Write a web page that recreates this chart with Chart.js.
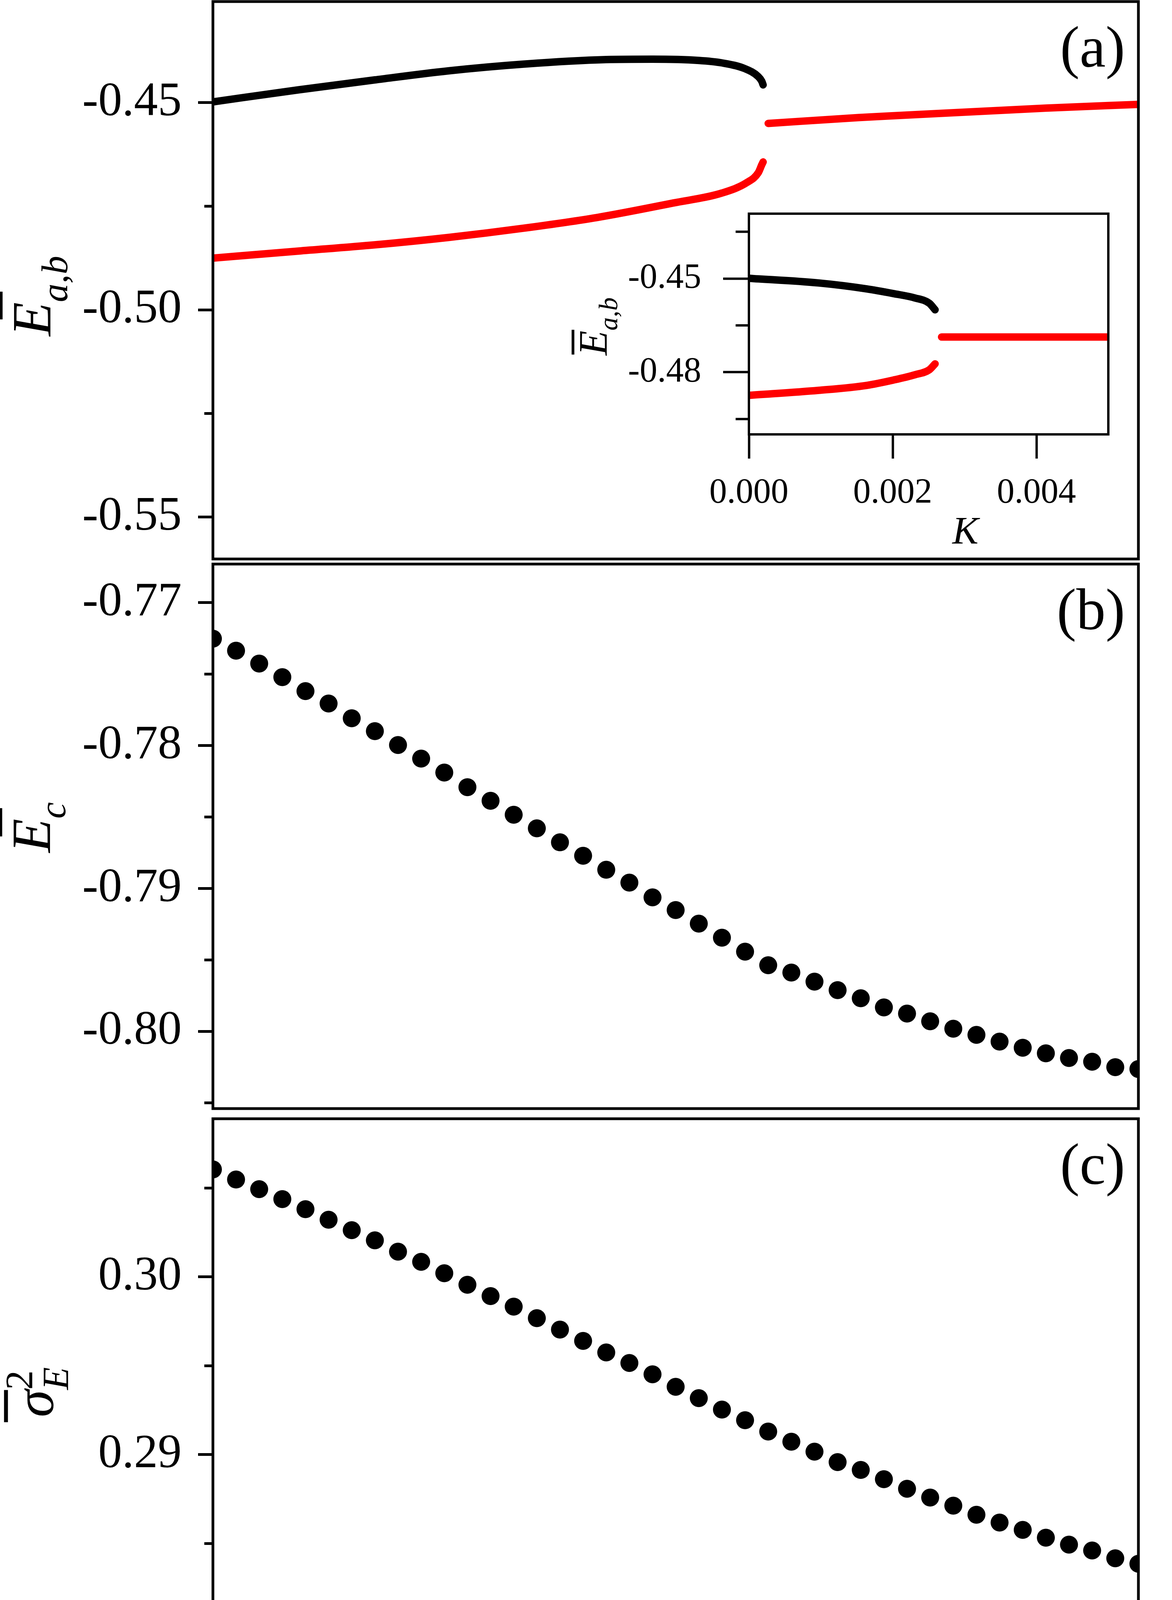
<!DOCTYPE html>
<html>
<head>
<meta charset="utf-8">
<script src="https://cdn.jsdelivr.net/npm/chart.js@4.4.1/dist/chart.umd.min.js"></script>
<style>
  html, body { margin: 0; padding: 0; background: #fff; }
  body { width: 3000px; height: 4654px; position: relative; overflow: hidden; }
  canvas { position: absolute; }
</style>
</head>
<body>
<canvas id="panelA" width="3000" height="1441" style="left:0;top:0;width:3000px;height:1441px"></canvas>
<canvas id="inset" width="1480" height="920" style="left:1400px;top:500px;width:1480px;height:920px"></canvas>
<canvas id="panelB" width="3000" height="1440" style="left:0;top:1421px;width:3000px;height:1440px"></canvas>
<canvas id="panelC" width="3000" height="1813" style="left:0;top:2841px;width:3000px;height:1813px"></canvas>
<script>
// ---- panel (a): the two branches and the single branch after the merge
const blackK = [0, 0.0037, 0.0070, 0.0102, 0.0134, 0.0170, 0.0190, 0.0210, 0.0220, 0.0230, 0.02357, 0.02372, 0.02378]
const blackE = [-0.4498, -0.4469, -0.4445, -0.4423, -0.4407, -0.4396, -0.4395, -0.4398, -0.4404, -0.4418, -0.4437, -0.4448, -0.4457]
const redLowK = [0, 0.0037, 0.0070, 0.0102, 0.0134, 0.0166, 0.0199, 0.0220, 0.0231, 0.02357, 0.02372, 0.02378]
const redLowE = [-0.4875, -0.4858, -0.4843, -0.4825, -0.4803, -0.4777, -0.4742, -0.4718, -0.4692, -0.4669, -0.4650, -0.4643]
const redHighK = [0.0240, 0.0279, 0.0296, 0.0360, 0.0400]
const redHighE = [-0.4550, -0.4536, -0.4531, -0.4513, -0.4504]

// ---- inset of panel (a)
const insetBlackK = [0, 0.00097, 0.00164, 0.00201, 0.00231, 0.00251, 0.00259]
const insetBlackE = [-0.4499, -0.4514, -0.4533, -0.4548, -0.4562, -0.4579, -0.4600]
const insetRedLowK = [0, 0.00097, 0.00164, 0.00201, 0.00231, 0.00251, 0.00259]
const insetRedLowE = [-0.4874, -0.4858, -0.4842, -0.4825, -0.4808, -0.4792, -0.4773]
const insetRedHighK = [0.00268, 0.0050]
const insetRedHighE = [-0.4687, -0.4687]

// ---- panels (b) and (c): one dot per K step
const kDots = [0, 0.001, 0.002, 0.003, 0.004, 0.005, 0.006, 0.007, 0.008, 0.009,
    0.010, 0.011, 0.012, 0.013, 0.014, 0.015, 0.016, 0.017, 0.018, 0.019,
    0.020, 0.021, 0.022, 0.023, 0.024, 0.025, 0.026, 0.027, 0.028, 0.029,
    0.030, 0.031, 0.032, 0.033, 0.034, 0.035, 0.036, 0.037, 0.038, 0.039, 0.040]
const ecValues = [-0.77252, -0.77336, -0.77426, -0.77521, -0.77619, -0.77706, -0.77809, -0.77899, -0.77996, -0.78091,
    -0.78189, -0.78291, -0.78386, -0.78484, -0.78579, -0.78677, -0.78771, -0.78869, -0.78959, -0.79062,
    -0.79151, -0.79246, -0.79344, -0.79442, -0.79537, -0.79588, -0.79652, -0.79711, -0.79768, -0.79832,
    -0.79875, -0.79929, -0.79981, -0.80024, -0.80071, -0.80114, -0.80153, -0.80186, -0.80212, -0.80250, -0.80263]
const sigmaValues = [0.30605, 0.30548, 0.30494, 0.30438, 0.30381, 0.30322, 0.30263, 0.30206, 0.30142, 0.30085,
    0.30021, 0.29956, 0.29892, 0.29833, 0.29768, 0.29704, 0.29640, 0.29575, 0.29516, 0.29452,
    0.29382, 0.29318, 0.29254, 0.29194, 0.29130, 0.29073, 0.29017, 0.28958, 0.28914, 0.28862,
    0.28808, 0.28759, 0.28713, 0.28662, 0.28618, 0.28577, 0.28533, 0.28494, 0.28461, 0.28417, 0.28386]

// ---- ticks
const kTicks = [0, 0.01, 0.02, 0.03, 0.04]
const kLabels = ['0.00', '0.01', '0.02', '0.03', '0.04']
const kMinor = [0.005, 0.015, 0.025, 0.035]
const yTicksA = [-0.55, -0.50, -0.45]
const yLabelsA = ['-0.55', '-0.50', '-0.45']
const yMinorA = [-0.525, -0.475]
const yTicksB = [-0.80, -0.79, -0.78, -0.77]
const yLabelsB = ['-0.80', '-0.79', '-0.78', '-0.77']
const yMinorB = [-0.805, -0.795, -0.785, -0.775]
const yTicksC = [0.28, 0.29, 0.30]
const yLabelsC = ['0.28', '0.29', '0.30']
const yMinorC = [0.285, 0.295, 0.305]
const insetKTicks = [0, 0.002, 0.004]
const insetKLabels = ['0.000', '0.002', '0.004']
const insetYTicks = [-0.48, -0.45]
const insetYLabels = ['-0.48', '-0.45']
const insetYMinor = [-0.495, -0.465, -0.435]

const FONT = 'Liberation Serif'
const RED = '#ff0000'
Chart.defaults.font.family = FONT
Chart.defaults.color = '#000'

const pairs = (xs, ys) => xs.map((x, i) => ({x, y: ys[i]}))

// rotated y title with overbar, subscript and superscript
function drawAxisTitle(ctx, area, t) {
    ctx.save()
    ctx.translate(t.x, (area.top + area.bottom) / 2 + t.dy)
    ctx.rotate(-Math.PI / 2)
    ctx.textBaseline = 'alphabetic'
    ctx.textAlign = 'left'
    ctx.font = `italic ${t.size}px ${FONT}`
    const baseW = ctx.measureText(t.base).width
    let subW = 0, supW = 0
    if (t.sub) { ctx.font = `italic ${t.subSize}px ${FONT}`; subW = ctx.measureText(t.sub).width }
    if (t.sup) { ctx.font = `${t.supSize}px ${FONT}`; supW = ctx.measureText(t.sup).width }
    const x0 = -(baseW + Math.max(subW, supW)) / 2
    ctx.font = `italic ${t.size}px ${FONT}`
    ctx.fillText(t.base, x0, 0)
    if (t.sub) { ctx.font = `italic ${t.subSize}px ${FONT}`; ctx.fillText(t.sub, x0 + baseW, t.subShift) }
    if (t.sup) { ctx.font = `${t.supSize}px ${FONT}`; ctx.fillText(t.sup, x0 + baseW, -t.supShift) }
    ctx.fillRect(x0 + t.bar[0] * t.size, -t.barY * t.size - t.barW / 2, (t.bar[1] - t.bar[0]) * t.size, t.barW)
    ctx.restore()
}

// frame, minor ticks, panel letter and titles
function decor(spec) {
    return {
        id: 'decor',
        afterDraw(chart) {
            const {ctx, chartArea: a, scales} = chart
            ctx.save()
            ctx.strokeStyle = '#000'
            ctx.fillStyle = '#000'
            ctx.lineWidth = spec.tickWidth
            ctx.beginPath()
            for (const v of spec.minorY || []) {
                const y = scales.y.getPixelForValue(v)
                ctx.moveTo(a.left - spec.minorLen, y)
                ctx.lineTo(a.left, y)
            }
            for (const v of spec.minorX || []) {
                const x = scales.x.getPixelForValue(v)
                ctx.moveTo(x, a.bottom)
                ctx.lineTo(x, a.bottom + spec.minorLen)
            }
            ctx.stroke()
            ctx.lineWidth = spec.frameWidth
            ctx.strokeRect(a.left, a.top, a.right - a.left, a.bottom - a.top)
            if (spec.letter) {
                ctx.font = `150px ${FONT}`
                ctx.textAlign = 'right'
                ctx.textBaseline = 'alphabetic'
                ctx.fillText(spec.letter, a.right - 34, a.top + 167)
            }
            if (spec.kTitle) {
                ctx.font = `italic ${spec.kTitle.size}px ${FONT}`
                ctx.textAlign = 'center'
                ctx.textBaseline = 'alphabetic'
                ctx.fillText('K', a.left + spec.kTitle.dx, a.bottom + spec.kTitle.dy)
            }
            if (spec.title) drawAxisTitle(ctx, a, spec.title)
            ctx.restore()
        }
    }
}

function yAxis(min, max, ticks, labels, o) {
    return {
        type: 'linear', position: 'left', min, max,
        afterBuildTicks: s => { s.ticks = ticks.map(value => ({value})) },
        afterFit: s => { s.width = o.width; s.paddingTop = 0; s.paddingBottom = 0 },
        border: {display: false},
        grid: {drawOnChartArea: false, tickLength: o.tickLength, tickWidth: o.tickWidth, tickColor: '#000'},
        ticks: {font: {size: o.size}, padding: o.padding, color: '#000', callback: (v, i) => labels[i]}
    }
}

function xAxis(min, max, ticks, labels, o) {
    if (!o) return {type: 'linear', min, max, display: false}
    return {
        type: 'linear', position: 'bottom', min, max,
        afterBuildTicks: s => { s.ticks = ticks.map(value => ({value})) },
        afterFit: s => { s.height = o.height; s.paddingLeft = 0; s.paddingRight = 0 },
        border: {display: false},
        grid: {drawOnChartArea: false, tickLength: o.tickLength, tickWidth: o.tickWidth, tickColor: '#000'},
        ticks: {font: {size: o.size}, padding: o.padding, maxRotation: 0, autoSkip: false, color: '#000', callback: (v, i) => labels[i]},
        title: o.title || {display: false}
    }
}

const baseOptions = {
    responsive: false,
    devicePixelRatio: 1,
    animation: false,
    events: [],
    plugins: {legend: {display: false}, tooltip: {enabled: false}}
}

function curve(data, color, width) {
    return {
        data, borderColor: color, backgroundColor: color, borderWidth: width,
        pointRadius: 0, cubicInterpolationMode: 'monotone',
        borderCapStyle: 'round', borderJoinStyle: 'round', clip: 0
    }
}

function dots(data) {
    return {data, pointRadius: 23, pointBackgroundColor: '#000', pointBorderWidth: 0, showLine: false, clip: 0}
}

const mainY = {width: 545, tickLength: 38, tickWidth: 7, size: 122, padding: 42}

// panel (a)
new Chart(document.getElementById('panelA').getContext('2d'), {
    type: 'line',
    data: {datasets: [
        curve(pairs(blackK, blackE), '#000', 19),
        curve(pairs(redLowK, redLowE), RED, 19),
        curve(pairs(redHighK, redHighE), RED, 19)
    ]},
    options: {
        ...baseOptions,
        layout: {padding: {left: 0, top: 4, right: 86, bottom: 10}},
        scales: {
            x: xAxis(0, 0.04),
            y: yAxis(-0.5601, -0.4256, yTicksA, yLabelsA, mainY)
        }
    },
    plugins: [decor({
        tickWidth: 7, minorLen: 22, frameWidth: 7, minorY: yMinorA, letter: '(a)',
        title: {x: 129, dy: 40, base: 'E', size: 142, sub: 'a,b', subSize: 95, subShift: 43,
            bar: [0.30, 0.80], barY: 0.89, barW: 8}
    })]
})

// inset
new Chart(document.getElementById('inset').getContext('2d'), {
    type: 'line',
    data: {datasets: [
        curve(pairs(insetBlackK, insetBlackE), '#000', 19),
        curve(pairs(insetRedLowK, insetRedLowE), RED, 19),
        curve(pairs(insetRedHighK, insetRedHighE), RED, 19)
    ]},
    options: {
        ...baseOptions,
        layout: {padding: {left: 0, top: 47, right: 43, bottom: 0}},
        scales: {
            x: xAxis(0, 0.005, insetKTicks, insetKLabels, {height: 308, tickLength: 62, tickWidth: 6, size: 90, padding: 35}),
            y: yAxis(-0.4999, -0.4292, insetYTicks, insetYLabels, {width: 517, tickLength: 66, tickWidth: 6, size: 90, padding: 56})
        }
    },
    plugins: [decor({
        tickWidth: 6, minorLen: 34, frameWidth: 6, minorY: insetYMinor,
        kTitle: {dx: 554, dy: 279, size: 100},
        title: {x: 153, dy: 6, base: 'E', size: 104, sub: 'a,b', subSize: 68, subShift: 27,
            bar: [0.02, 0.63], barY: 0.83, barW: 7}
    })]
})

// panel (b)
new Chart(document.getElementById('panelB').getContext('2d'), {
    type: 'scatter',
    data: {datasets: [dots(pairs(kDots, ecValues))]},
    options: {
        ...baseOptions,
        layout: {padding: {left: 0, top: 10, right: 86, bottom: 10}},
        scales: {
            x: xAxis(0, 0.04),
            y: yAxis(-0.8054, -0.7673, yTicksB, yLabelsB, mainY)
        }
    },
    plugins: [decor({
        tickWidth: 7, minorLen: 22, frameWidth: 7, minorY: yMinorB, letter: '(b)',
        title: {x: 128, dy: -23, base: 'E', size: 142, sub: 'c', subSize: 95, subShift: 39,
            bar: [0.29, 0.80], barY: 0.89, barW: 8}
    })]
})

// panel (c)
new Chart(document.getElementById('panelC').getContext('2d'), {
    type: 'scatter',
    data: {datasets: [dots(pairs(kDots, sigmaValues))]},
    options: {
        ...baseOptions,
        layout: {padding: {left: 0, top: 10, right: 86, bottom: 0}},
        scales: {
            x: xAxis(0, 0.04, kTicks, kLabels, {
                height: 384, tickLength: 38, tickWidth: 7, size: 122, padding: 38,
                title: {display: true, text: 'K', color: '#000', padding: 0,
                    font: {family: FONT, size: 160, style: 'italic', lineHeight: 0.62}}
            }),
            y: yAxis(0.2780, 0.3089, yTicksC, yLabelsC, mainY)
        }
    },
    plugins: [decor({
        tickWidth: 7, minorLen: 22, frameWidth: 7, minorY: yMinorC, minorX: kMinor, letter: '(c)',
        title: {x: 136, dy: -3, base: 'σ', size: 142, sub: 'E', subSize: 95, subShift: 39,
            sup: '2', supSize: 100, supShift: 54, bar: [-0.09, 0.49], barY: 0.85, barW: 10}
    })]
})
</script>
</body>
</html>
